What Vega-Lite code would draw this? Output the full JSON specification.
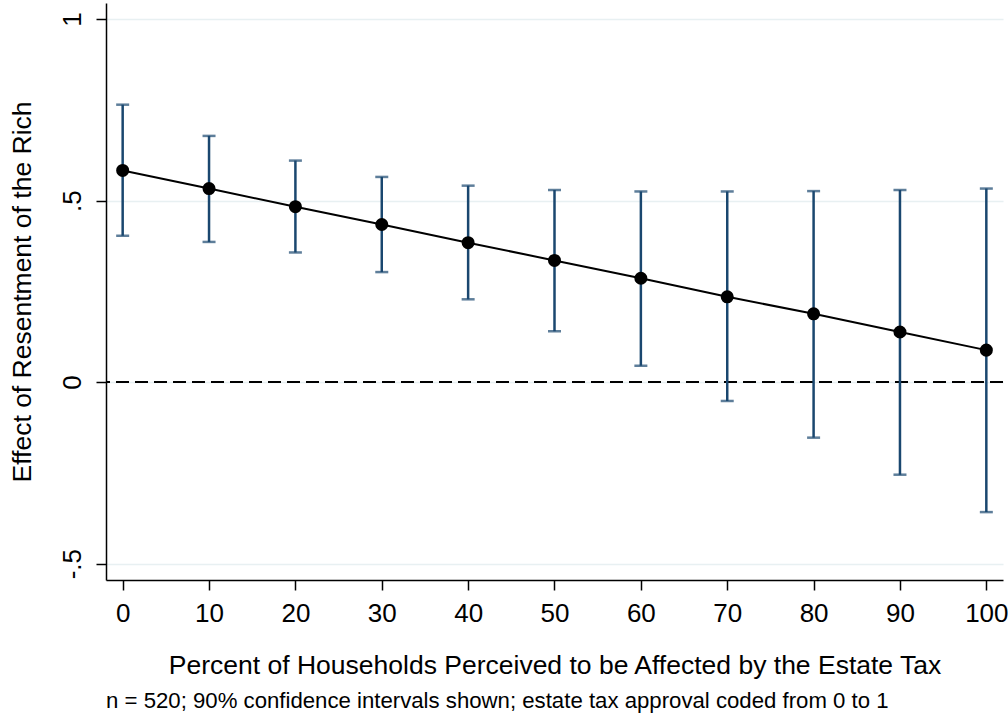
{
  "$schema": "https://vega.github.io/schema/vega-lite/v6.json",
  "width": 897,
  "height": 577,
  "autosize": {"type": "none"},
  "padding": {"left": 106, "top": 3, "right": 5, "bottom": 133},
  "background": "white",
  "config": {"font": "Liberation Sans", "view": {"stroke": null}},
  "title": {
    "text": "n = 520; 90% confidence intervals shown; estate tax approval coded from 0 to 1",
    "orient": "bottom",
    "anchor": "start",
    "frame": "group",
    "fontSize": 22.2,
    "fontWeight": "normal",
    "color": "black",
    "offset": 11
  },
  "data": {
    "values": [
      {"x": 0, "b": 0.583, "lo": 0.403, "hi": 0.764},
      {"x": 10, "b": 0.533, "lo": 0.386, "hi": 0.678},
      {"x": 20, "b": 0.483, "lo": 0.357, "hi": 0.610},
      {"x": 30, "b": 0.434, "lo": 0.303, "hi": 0.565},
      {"x": 40, "b": 0.384, "lo": 0.228, "hi": 0.541},
      {"x": 50, "b": 0.335, "lo": 0.140, "hi": 0.529},
      {"x": 60, "b": 0.286, "lo": 0.045, "hi": 0.525},
      {"x": 70, "b": 0.235, "lo": -0.052, "hi": 0.525},
      {"x": 80, "b": 0.188, "lo": -0.153, "hi": 0.526},
      {"x": 90, "b": 0.138, "lo": -0.255, "hi": 0.529},
      {"x": 100, "b": 0.088, "lo": -0.358, "hi": 0.533}
    ]
  },
  "layer": [
    {
      "mark": {"type": "line", "color": "black", "strokeWidth": 2},
      "encoding": {
        "x": {
          "field": "x", "type": "quantitative",
          "title": "Percent of Households Perceived to be Affected by the Estate Tax",
          "scale": {"domain": [-1.93, 101.93], "nice": false, "zero": false},
          "axis": {
            "values": [0, 10, 20, 30, 40, 50, 60, 70, 80, 90, 100],
            "grid": false,
            "labelFontSize": 26, "labelColor": "black", "labelPadding": 10,
            "tickSize": 10, "tickWidth": 1.5, "tickColor": "black",
            "domainColor": "black", "domainWidth": 1.5,
            "titleFontSize": 26.5, "titleFontWeight": "normal", "titleColor": "black",
            "titleY": 85, "titleBaseline": "middle"
          }
        },
        "y": {
          "field": "b", "type": "quantitative",
          "title": "Effect of Resentment of the Rich",
          "scale": {"domain": [-0.545, 1.044], "nice": false, "zero": false},
          "axis": {
            "values": [-0.5, 0, 0.5, 1],
            "labelExpr": "replace(toString(datum.value), '0.', '.')",
            "labelAngle": -90, "labelAlign": "center", "labelBaseline": "bottom",
            "labelPadding": 11, "labelFontSize": 26, "labelColor": "black",
            "tickSize": 10, "tickWidth": 1.5, "tickColor": "black",
            "domainColor": "black", "domainWidth": 1.5,
            "grid": true, "gridColor": "#e8f0f2", "gridWidth": 1.5,
            "titleFontSize": 26.5, "titleFontWeight": "normal", "titleColor": "black",
            "titleX": -84, "titleY": 288.5, "titleAngle": -90, "titleAlign": "center", "titleBaseline": "middle"
          }
        }
      }
    },
    {
      "mark": {"type": "rule", "color": "black", "strokeDash": [13, 6], "strokeWidth": 2},
      "encoding": {
        "y": {"datum": 0, "type": "quantitative", "title": "Effect of Resentment of the Rich"}
      }
    },
    {
      "mark": {"type": "errorbar", "color": "#1a476f", "thickness": 2.5, "ticks": {"size": 13, "thickness": 2.5, "color": "#1a476f"}},
      "encoding": {
        "x": {"field": "x", "type": "quantitative", "title": "Percent of Households Perceived to be Affected by the Estate Tax"},
        "y": {"field": "lo", "type": "quantitative", "title": "Effect of Resentment of the Rich"},
        "y2": {"field": "hi"}
      }
    },
    {
      "mark": {"type": "point", "filled": true, "color": "black", "size": 170, "opacity": 1},
      "encoding": {
        "x": {"field": "x", "type": "quantitative", "title": "Percent of Households Perceived to be Affected by the Estate Tax"},
        "y": {"field": "b", "type": "quantitative", "title": "Effect of Resentment of the Rich"}
      }
    }
  ]
}
